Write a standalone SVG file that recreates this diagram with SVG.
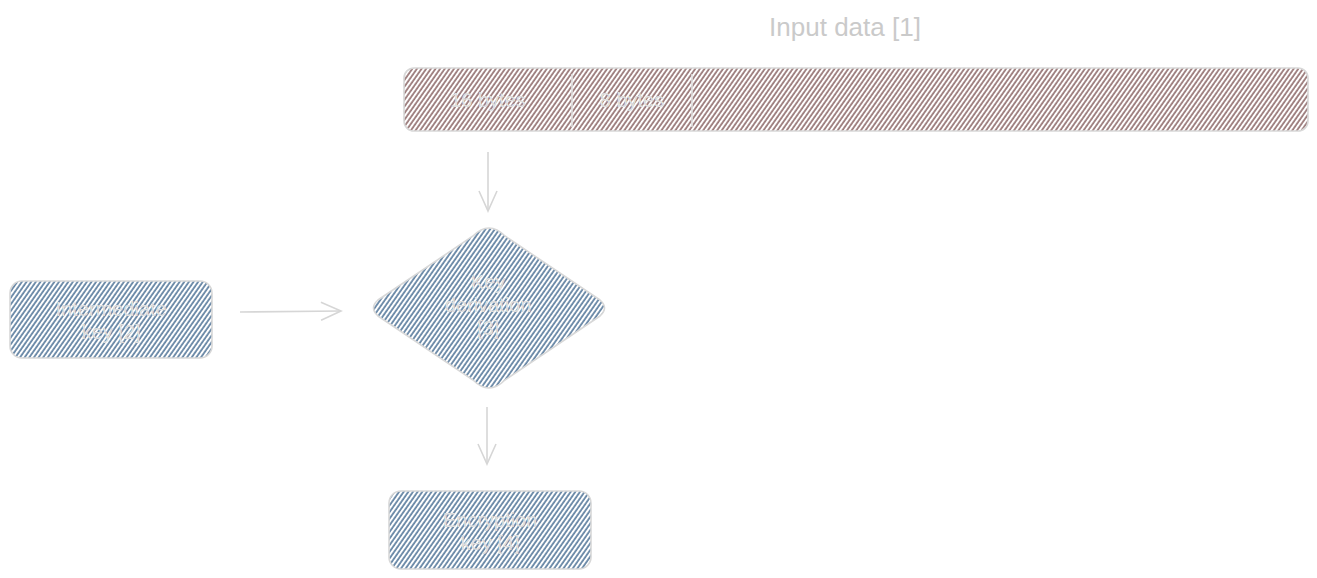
<svg xmlns="http://www.w3.org/2000/svg" width="1317" height="578" viewBox="0 0 1317 578">
<defs>
<pattern id="hb" width="3.8" height="4" patternUnits="userSpaceOnUse" patternTransform="rotate(35)">
<rect width="3.8" height="4" fill="#ffffff"/>
<line x1="1" y1="0" x2="1" y2="4" stroke="#55789a" stroke-width="1.6"/>
</pattern>
<pattern id="hr" width="3.8" height="4" patternUnits="userSpaceOnUse" patternTransform="rotate(35)">
<rect width="3.8" height="4" fill="#ffffff"/>
<line x1="1" y1="0" x2="1" y2="4" stroke="#8f6b6b" stroke-width="1.6"/>
</pattern>
<marker id="ah" markerWidth="24" markerHeight="24" refX="21" refY="12" orient="auto" markerUnits="userSpaceOnUse">
<path d="M1,3 L21,12 L1,21" fill="none" stroke="#d6d6d6" stroke-width="1.6"/>
</marker>
<style>
.shape{stroke:#d8d8d8;stroke-width:1.6}
.lbl{font-family:"Liberation Sans",Arial,sans-serif;font-size:20px;fill:#dedede;text-anchor:middle}
.title{font-family:"Liberation Sans",Arial,sans-serif;font-size:26px;fill:#cacaca;text-anchor:middle}
.conn{stroke:#d6d6d6;stroke-width:1.6;fill:none}
</style>
</defs>
<g id="title"><text class="title" x="845" y="36">Input data [1]</text></g>
<g id="input-data">
<rect class="shape" x="404" y="68" width="904" height="63" rx="10" fill="url(#hr)"/>
<line x1="572" y1="74" x2="572" y2="127" stroke="#e0e0e0" stroke-width="1.6"/>
<line x1="692" y1="74" x2="692" y2="127" stroke="#e0e0e0" stroke-width="1.6"/>
<text class="lbl" x="488" y="107">16 bytes</text>
<text class="lbl" x="632" y="107">8 bytes</text>
</g>
<g id="intermediate-key">
<rect class="shape" x="10" y="281" width="202" height="77" rx="12" fill="url(#hb)"/>
<text class="lbl" x="111" y="316">Intermediate</text>
<text class="lbl" x="111" y="339">key [2]</text>
</g>
<g id="key-derivation">
<path class="shape" d="M489,228 Q497,228 505,236 L600,300 Q609,308 600,316 L505,380 Q497,388 489,388 Q481,388 473,380 L378,316 Q369,308 378,300 L473,236 Q481,228 489,228 Z" fill="url(#hb)"/>
<text class="lbl" x="488" y="289">Key</text>
<text class="lbl" x="488" y="312">derivation</text>
<text class="lbl" x="488" y="335">[3]</text>
</g>
<g id="encryption-key">
<rect class="shape" x="389" y="491" width="202" height="78" rx="12" fill="url(#hb)"/>
<text class="lbl" x="490" y="527">Encryption</text>
<text class="lbl" x="490" y="550">key [4]</text>
</g>
<g id="connectors">
<line class="conn" x1="488" y1="152" x2="488" y2="211" marker-end="url(#ah)"/>
<line class="conn" x1="240" y1="312" x2="341" y2="311" marker-end="url(#ah)"/>
<line class="conn" x1="487" y1="407" x2="487" y2="464" marker-end="url(#ah)"/>
</g>
</svg>
